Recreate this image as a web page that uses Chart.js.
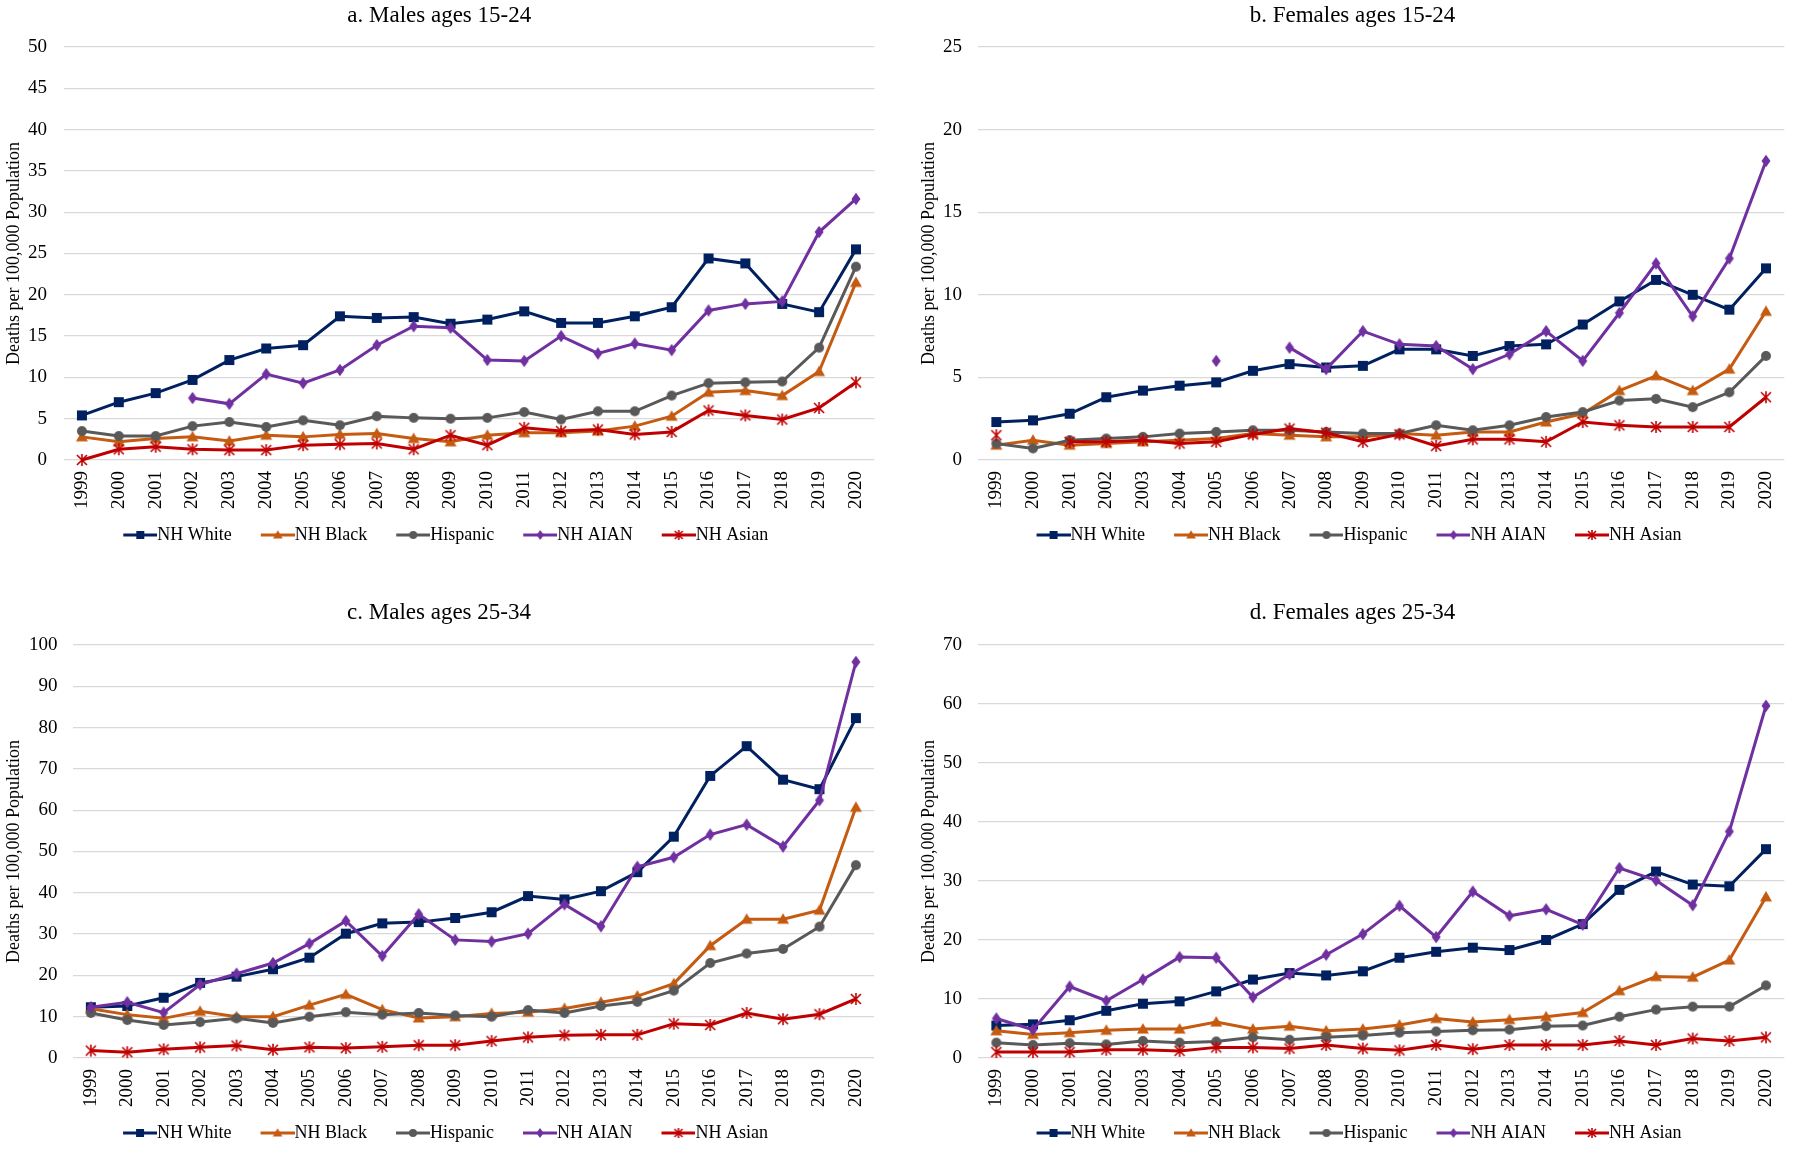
<!DOCTYPE html>
<html lang="en">
<head>
<meta charset="UTF-8">
<title>Deaths per 100,000 Population, ages 15-34</title>
<script src="https://cdn.jsdelivr.net/npm/chart.js"></script>
<style>
  body { margin: 0; background: #fff; width: 1800px; height: 1149px; overflow: hidden; position: relative; }
  .panel { position: absolute; }
</style>
</head>
<body>
<div class="panel" style="left:0;top:0;width:890px;height:554px"><canvas id="chartA"></canvas></div>
<div class="panel" style="left:910px;top:0;width:890px;height:554px"><canvas id="chartB"></canvas></div>
<div class="panel" style="left:0;top:590px;width:890px;height:562px"><canvas id="chartC"></canvas></div>
<div class="panel" style="left:910px;top:590px;width:890px;height:562px"><canvas id="chartD"></canvas></div>

<script>
const years = ['1999','2000','2001','2002','2003','2004','2005','2006','2007','2008','2009',
               '2010','2011','2012','2013','2014','2015','2016','2017','2018','2019','2020'];
const seriesNames = ['NH White', 'NH Black', 'Hispanic', 'NH AIAN', 'NH Asian'];

// a. Males ages 15-24
const aWhite    = [5.4,7.0,8.1,9.7,12.1,13.5,13.9,17.4,17.2,17.3,16.5,17.0,18.0,16.6,16.6,17.4,18.5,24.4,23.8,18.9,17.9,25.5];
const aBlack    = [2.8,2.2,2.6,2.8,2.3,3.0,2.8,3.1,3.2,2.6,2.2,3.0,3.3,3.3,3.5,4.1,5.3,8.2,8.4,7.8,10.7,21.5];
const aHispanic = [3.5,2.9,2.9,4.1,4.6,4.0,4.8,4.2,5.3,5.1,5.0,5.1,5.8,4.9,5.9,5.9,7.8,9.3,9.4,9.5,13.6,23.4];
const aAian     = [null,null,null,7.5,6.8,10.4,9.3,10.9,13.9,16.2,16.0,12.1,12.0,15.0,12.9,14.1,13.3,18.1,18.9,19.2,27.6,31.6];
const aAsian    = [0.0,1.3,1.6,1.3,1.2,1.2,1.8,1.9,2.0,1.3,3.0,1.8,3.9,3.5,3.7,3.1,3.4,6.0,5.4,4.9,6.3,9.4];

// b. Females ages 15-24
const bWhite    = [2.3,2.4,2.8,3.8,4.2,4.5,4.7,5.4,5.8,5.6,5.7,6.7,6.7,6.3,6.9,7.0,8.2,9.6,10.9,10.0,9.1,11.6];
const bBlack    = [0.9,1.2,0.9,1.0,1.1,1.2,1.3,1.6,1.5,1.4,1.4,1.6,1.5,1.7,1.7,2.3,2.8,4.2,5.1,4.2,5.5,9.0];
const bHispanic = [1.0,0.7,1.2,1.3,1.4,1.6,1.7,1.8,1.8,1.7,1.6,1.6,2.1,1.8,2.1,2.6,2.9,3.6,3.7,3.2,4.1,6.3];
const bAian     = [null,null,null,null,null,null,6.0,null,6.8,5.5,7.8,7.0,6.9,5.5,6.4,7.8,6.0,8.9,11.9,8.7,12.2,18.1];
const bAsian    = [1.5,null,1.1,1.1,1.2,1.0,1.1,1.55,1.9,1.65,1.1,1.55,0.85,1.25,1.25,1.1,2.3,2.1,2.0,2.0,2.0,3.8];

// c. Males ages 25-34
const cWhite    = [12.3,12.6,14.6,18.2,19.7,21.5,24.3,30.1,32.6,32.9,33.9,35.3,39.2,38.4,40.4,45.0,53.6,68.3,75.5,67.4,65.1,82.3];
const cBlack    = [11.9,10.5,9.6,11.3,10.0,10.0,12.8,15.4,11.7,9.7,10.0,10.8,11.1,12.0,13.5,15.0,18.0,27.2,33.6,33.6,35.8,60.7];
const cHispanic = [10.9,9.2,8.0,8.7,9.6,8.5,10.0,11.1,10.5,10.9,10.3,10.0,11.6,10.9,12.6,13.6,16.3,23.0,25.3,26.4,31.8,46.7];
const cAian     = [12.3,13.5,11.0,17.8,20.4,23.0,27.7,33.2,24.7,34.8,28.6,28.2,30.1,37.2,31.9,46.3,48.6,54.1,56.5,51.2,62.4,95.9];
const cAsian    = [1.8,1.4,2.1,2.6,3.0,2.0,2.6,2.4,2.7,3.1,3.1,4.1,5.0,5.5,5.6,5.6,8.3,8.0,10.9,9.4,10.6,14.3];

// d. Females ages 25-34
const dWhite    = [5.5,5.7,6.4,8.0,9.2,9.6,11.3,13.3,14.4,14.0,14.7,17.0,18.0,18.7,18.3,20.0,22.7,28.5,31.6,29.4,29.1,35.4];
const dBlack    = [4.6,4.0,4.3,4.7,4.9,4.9,6.1,4.9,5.4,4.6,4.9,5.6,6.7,6.1,6.5,7.0,7.7,11.4,13.8,13.7,16.6,27.3];
const dHispanic = [2.6,2.2,2.5,2.3,2.9,2.6,2.8,3.5,3.1,3.5,3.8,4.3,4.5,4.7,4.8,5.4,5.5,7.0,8.2,8.7,8.7,12.3];
const dAian     = [6.7,4.8,12.1,9.7,13.3,17.1,17.0,10.3,14.2,17.5,21.0,25.8,20.5,28.2,24.1,25.2,22.6,32.2,30.1,25.9,38.4,59.7];
const dAsian    = [1.0,1.0,1.0,1.4,1.4,1.2,1.8,1.8,1.6,2.2,1.6,1.3,2.2,1.5,2.2,2.2,2.2,2.9,2.2,3.3,2.9,3.5];

const colors = ['#002060', '#c55a11', '#595959', '#7030a0', '#c00000'];
const markers = ['square', 'triangle', 'circle', 'diamond', 'asterisk'];
const FONT = "'Liberation Serif', 'Times New Roman', serif";

// draws one Excel-like marker centred at (cx, cy)
function drawMarker(ctx, kind, color, cx, cy, s) {
  ctx.fillStyle = color;
  ctx.strokeStyle = color;
  ctx.beginPath();
  if (kind === 'square') {
    ctx.fillRect(cx - s / 2, cy - s / 2, s, s);
  } else if (kind === 'triangle') {
    ctx.moveTo(cx, cy - s * 0.6);
    ctx.lineTo(cx + s * 0.6, cy + s * 0.45);
    ctx.lineTo(cx - s * 0.6, cy + s * 0.45);
    ctx.closePath();
    ctx.fill();
  } else if (kind === 'circle') {
    ctx.arc(cx, cy, s / 2, 0, Math.PI * 2);
    ctx.fill();
  } else if (kind === 'diamond') {
    ctx.moveTo(cx, cy - s * 0.62);
    ctx.lineTo(cx + s * 0.45, cy);
    ctx.lineTo(cx, cy + s * 0.62);
    ctx.lineTo(cx - s * 0.45, cy);
    ctx.closePath();
    ctx.fill();
  } else {
    const r = s / 2;
    ctx.lineWidth = 1.6;
    ctx.moveTo(cx - r, cy - r); ctx.lineTo(cx + r, cy + r);
    ctx.moveTo(cx + r, cy - r); ctx.lineTo(cx - r, cy + r);
    ctx.moveTo(cx, cy - r - 1); ctx.lineTo(cx, cy + r + 1);
    ctx.stroke();
  }
}

function pointImage(i) {
  const c = document.createElement('canvas');
  c.width = 14; c.height = 14;
  drawMarker(c.getContext('2d'), markers[i], colors[i], 7, 7, 10);
  return c;
}

// legend symbol: line with marker in the middle, transparent space on the left
// so the visible line ends right where the label text starts
function legendImage(i) {
  const c = document.createElement('canvas');
  c.width = 56; c.height = 14;
  const ctx = c.getContext('2d');
  ctx.strokeStyle = colors[i];
  ctx.lineWidth = 3;
  ctx.beginPath();
  ctx.moveTo(22, 7); ctx.lineTo(56, 7);
  ctx.stroke();
  drawMarker(ctx, markers[i], colors[i], 39, 7, 8);
  return c;
}

const pointImages = colors.map((c, i) => pointImage(i));
const legendImages = colors.map((c, i) => legendImage(i));

function makeChart(id, title, series, yMax, step, lay) {
  const datasets = series.map((data, i) => ({
    label: seriesNames[i],
    data: data,
    borderColor: colors[i],
    backgroundColor: colors[i],
    borderWidth: 3,
    pointStyle: pointImages[i],
    pointRadius: 6,
    tension: 0,
    spanGaps: false,
    clip: false,
    order: 5 - i
  }));

  return new Chart(document.getElementById(id), {
    type: 'line',
    data: { labels: years, datasets: datasets },
    options: {
      responsive: true,
      maintainAspectRatio: false,
      animation: false,
      devicePixelRatio: 1,
      layout: { padding: { left: 0, right: lay.right, top: 0, bottom: 0 } },
      plugins: {
        tooltip: { enabled: false },
        title: {
          display: true,
          text: title,
          color: '#000',
          font: { family: FONT, size: 23, weight: 'normal' },
          padding: { top: lay.titleTop, bottom: lay.titleBottom }
        },
        legend: {
          position: 'bottom',
          labels: {
            usePointStyle: true,
            pointStyleWidth: 38,
            padding: 16,
            color: '#000',
            font: { family: FONT, size: 18 },
            generateLabels: chart => chart.data.datasets.map((ds, i) => ({
              text: ds.label,
              pointStyle: legendImages[i],
              fillStyle: ds.borderColor,
              strokeStyle: ds.borderColor,
              lineWidth: 0,
              fontColor: '#000',
              hidden: !chart.isDatasetVisible(i),
              datasetIndex: i
            }))
          }
        }
      },
      scales: {
        x: {
          offset: true,
          grid: { display: false, drawTicks: false },
          border: { display: false },
          ticks: {
            autoSkip: false,
            minRotation: 90,
            maxRotation: 90,
            padding: 11,
            color: '#000',
            font: { family: FONT, size: 19 }
          },
          afterFit: s => { s.height = lay.xHeight; }
        },
        y: {
          min: 0,
          max: yMax,
          grid: { color: '#d9d9d9', lineWidth: 1.2, drawTicks: false },
          border: { display: false },
          ticks: {
            stepSize: step,
            padding: lay.tickPad,
            color: '#000',
            font: { family: FONT, size: 19 }
          },
          title: {
            display: true,
            text: 'Deaths per 100,000 Population',
            color: '#000',
            font: { family: FONT, size: 18 },
            padding: { top: lay.yTitlePad, bottom: 0 }
          },
          afterFit: s => { s.width = lay.left; }
        }
      }
    }
  });
}

makeChart('chartA', 'a. Males ages 15-24', [aWhite, aBlack, aHispanic, aAian, aAsian], 50, 5,
  { left: 63.5, right: 11.5, titleTop: 2.2, titleBottom: 17.2, xHeight: 50, tickPad: 16.5, yTitlePad: 3.2 });
makeChart('chartB', 'b. Females ages 15-24', [bWhite, bBlack, bHispanic, bAian, bAsian], 25, 5,
  { left: 68, right: 5, titleTop: 2.2, titleBottom: 17.2, xHeight: 50, tickPad: 16, yTitlePad: 8.2 });
makeChart('chartC', 'c. Males ages 25-34', [cWhite, cBlack, cHispanic, cAian, cAsian], 100, 10,
  { left: 72.6, right: 12, titleTop: 9.2, titleBottom: 18.2, xHeight: 50, tickPad: 15, yTitlePad: 3.6 });
makeChart('chartD', 'd. Females ages 25-34', [dWhite, dBlack, dHispanic, dAian, dAsian], 70, 10,
  { left: 68, right: 5, titleTop: 9.2, titleBottom: 18.2, xHeight: 50, tickPad: 16, yTitlePad: 8.2 });
</script>
</body>
</html>
